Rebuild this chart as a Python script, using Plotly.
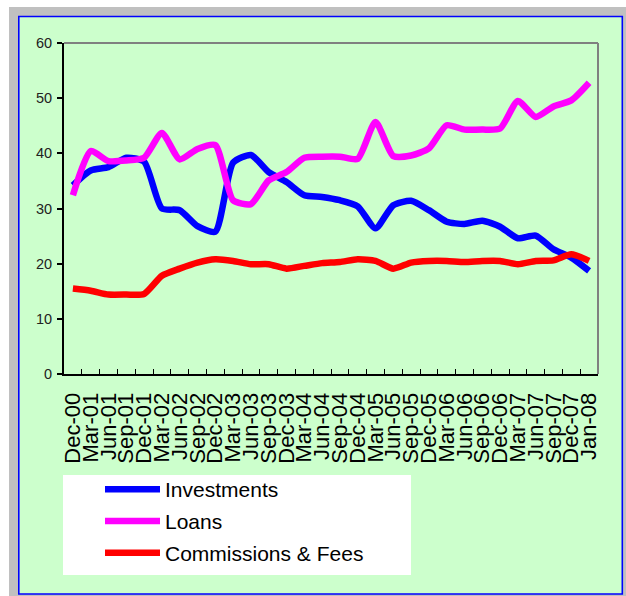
import plotly.graph_objects as go

# Quarterly observations, Dec-2000 to Jan-2008
periods = ["Dec-00", "Mar-01", "Jun-01", "Sep-01", "Dec-01", "Mar-02", "Jun-02", "Sep-02",
           "Dec-02", "Mar-03", "Jun-03", "Sep-03", "Dec-03", "Mar-04", "Jun-04", "Sep-04",
           "Dec-04", "Mar-05", "Jun-05", "Sep-05", "Dec-05", "Mar-06", "Jun-06", "Sep-06",
           "Dec-06", "Mar-07", "Jun-07", "Sep-07", "Dec-07", "Jan-08"]

investments = [34.2, 36.9, 37.5, 39.2, 38.5, 30.0, 29.7, 26.8, 25.8, 38.3,
               39.7, 36.6, 34.8, 32.4, 32.1, 31.5, 30.4, 26.4, 30.6, 31.4,
               29.7, 27.6, 27.2, 27.8, 26.7, 24.6, 25.1, 22.6, 21.1, 18.7]

loans = [32.4, 40.4, 38.6, 38.7, 39.2, 43.7, 38.9, 40.8, 41.5, 31.5,
         30.8, 35.1, 36.6, 39.2, 39.4, 39.4, 39.0, 45.7, 39.5, 39.6,
         40.9, 45.1, 44.3, 44.3, 44.5, 49.5, 46.6, 48.5, 49.6, 52.8]

commissions = [15.5, 15.1, 14.4, 14.4, 14.5, 17.8, 19.1, 20.2, 20.8, 20.5,
               19.9, 19.9, 19.1, 19.6, 20.1, 20.3, 20.8, 20.5, 19.1, 20.2,
               20.5, 20.5, 20.3, 20.5, 20.5, 19.9, 20.5, 20.6, 21.7, 20.5]

y_ticks = [0, 10, 20, 30, 40, 50, 60]

series = [
    ("Investments", investments, "#0000FF"),
    ("Loans", loans, "#FF00FF"),
    ("Commissions & Fees", commissions, "#FF0000"),
]

W, H = 626, 596
L, R, T, B = 64, 28, 43, 222
PW, PH = W - L - R, H - T - B


def px_x(x):
    return (x - L) / PW


def px_y(y):
    return (H - B - y) / PH


fig = go.Figure()
for i, (name, vals, color) in enumerate(series):
    fig.add_trace(go.Scatter(
        x=periods, y=vals, name=name, mode="lines",
        line=dict(color=color, width=6.5, shape="spline", smoothing=0.6),
        legendgroup=f"g{i}",
    ))

shapes = [
    # grey outer frame
    dict(type="rect", xref="paper", yref="paper", layer="below",
         x0=px_x(9), x1=px_x(640), y0=px_y(620), y1=px_y(7),
         fillcolor="#C0C0C0", line=dict(width=0)),
    # green panel with blue border
    dict(type="rect", xref="paper", yref="paper", layer="below",
         x0=px_x(18.8), x1=px_x(622.3), y0=px_y(594), y1=px_y(16.5),
         fillcolor="#CCFFCC", line=dict(color="#0000FF", width=1.6)),
    # white legend box
    dict(type="rect", xref="paper", yref="paper", layer="below",
         x0=px_x(63), x1=px_x(411), y0=px_y(575), y1=px_y(475),
         fillcolor="#FFFFFF", line=dict(width=0)),
    # grey top and right edges of the plot area
    dict(type="line", xref="paper", yref="paper", layer="above",
         x0=0, x1=1, y0=1, y1=1, line=dict(color="#808080", width=2)),
    dict(type="line", xref="paper", yref="paper", layer="above",
         x0=1, x1=1, y0=0, y1=1, line=dict(color="#808080", width=2)),
]

fig.update_layout(
    template="none",
    width=W, height=H, autosize=False,
    margin=dict(l=L, r=R, t=T, b=B, autoexpand=False),
    paper_bgcolor="#FFFFFF",
    plot_bgcolor="#FFFFFF",
    shapes=shapes,
    showlegend=True,
    legend=dict(
        x=px_x(100), y=px_y(469), xanchor="left", yanchor="top",
        bgcolor="rgba(0,0,0,0)", borderwidth=0,
        font=dict(family="Liberation Sans, Arial, sans-serif", size=21, color="#000000"),
        itemwidth=55, tracegroupgap=1.5,
    ),
    xaxis=dict(
        type="category", categoryorder="array", categoryarray=periods,
        range=[-0.5, len(periods) - 0.5],
        tickmode="array", tickvals=periods, ticktext=periods,
        showgrid=False, zeroline=False,
        showline=True, linecolor="#000000", linewidth=2,
        ticks="inside", tickson="boundaries", ticklen=5, tickwidth=1, tickcolor="#000000",
        tickangle=-90, ticklabelstandoff=8,
        tickfont=dict(family="Liberation Sans, Arial, sans-serif", size=22, color="#000000"),
    ),
    yaxis=dict(
        range=[0, 60], tickmode="array", tickvals=y_ticks,
        showgrid=False, zeroline=False,
        showline=True, linecolor="#000000", linewidth=2,
        ticks="outside", ticklen=5, tickwidth=1.5, tickcolor="#000000",
        ticklabelstandoff=2,
        tickfont=dict(family="Liberation Sans, Arial, sans-serif", size=14.5, color="#222222"),
    ),
)

fig.write_html("out.html")
